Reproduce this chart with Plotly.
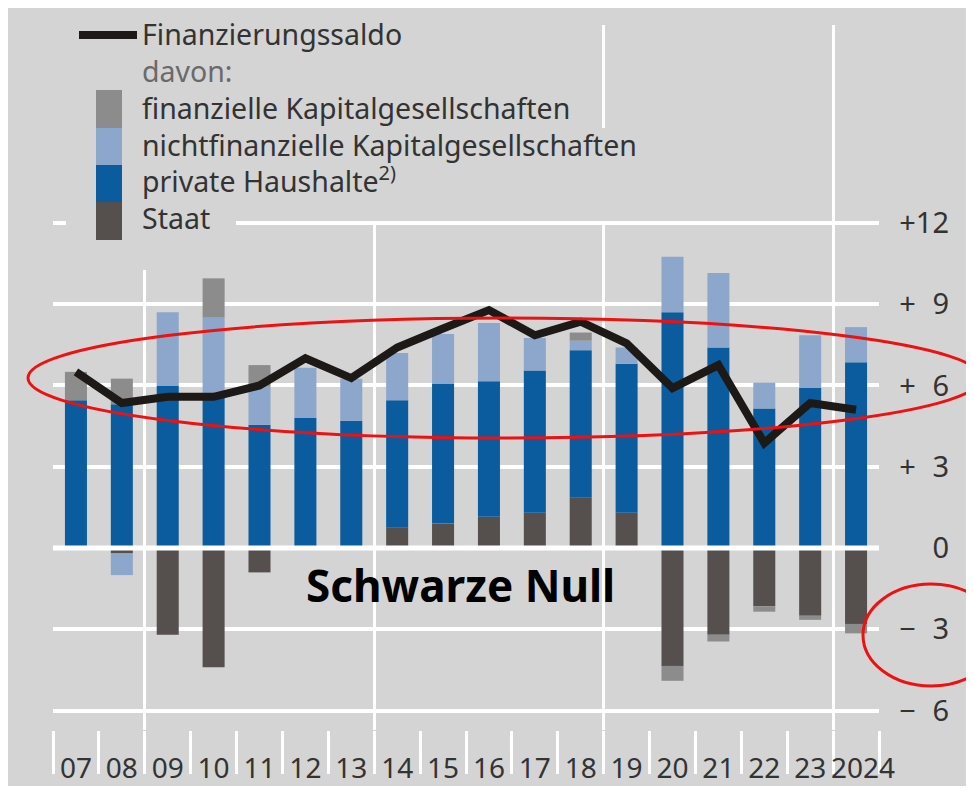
import plotly.graph_objects as go

# ---- data ----
years = ["07", "08", "09", "10", "11", "12", "13", "14", "15", "16", "17", "18",
         "19", "20", "21", "22", "23", "2024"]
x_ticktext = ["07", "08", "09", "10", "11", "12", "13", "14", "15", "16", "17",
              "18", "19", "20", "21", "22", "23", "\u20022024"]
staat = [0, -0.2, -3.2, -4.4, -0.9, 0, 0, 0.75, 0.9, 1.15, 1.3, 1.85, 1.3,
         -4.35, -3.2, -2.15, -2.5, -2.8]
haushalte = [5.45, 5.3, 6.0, 5.55, 4.55, 4.8, 4.7, 4.7, 5.15, 5.0, 5.25, 5.45,
             5.5, 8.7, 7.4, 5.15, 5.9, 6.85]
nichtfin = [0, -0.8, 2.7, 2.95, 1.4, 1.85, 1.55, 1.75, 1.85, 2.15, 1.2, 0.35,
            0.6, 2.05, 2.75, 0.95, 1.95, 1.3]
finanz = [1.05, 0.95, 0, 1.45, 0.8, 0, 0, 0, 0, 0, 0, 0.3, 0, -0.55, -0.25,
          -0.2, -0.15, -0.35]
saldo = [6.5, 5.35, 5.58, 5.58, 6.0, 7.0, 6.27, 7.4, 8.1, 8.78, 7.85, 8.35,
         7.55, 5.9, 6.75, 3.87, 5.35, 5.1]
y_tickvals = [-6, -3, 0, 3, 6, 9, 12]
y_ticktext = ["\u2212\u20076", "\u2212\u20073", "0", "+\u20073", "+\u20076", "+\u20079", "+12"]

# ---- styling / layout geometry (page pixels) ----
OFF = 8                     # default body margin of the html page
FW, FH = 974 - 2 * OFF, 794 - 2 * OFF
TOP, BOTTOM = 25, 730       # plot area top / bottom in page px
BG = "#d4d4d4"
C_FIN = "#8c8c8c"
C_NFK = "#8ca6cc"
C_HH = "#0a5c9e"
C_ST = "#55504d"
C_LINE = "#1c1917"
FONT = "Noto Sans"
TXT = "#333333"


def px_x(p):
    return (p - OFF) / FW


def px_y(p):
    return (BOTTOM - p) / (BOTTOM - TOP)


def big(s, color=None):
    st = "font-size:28.5px" + (";color:" + color if color else "")
    return "<span style='" + st + "'>" + s + "</span>"


fig = go.Figure()
fig.add_bar(x=years, y=staat, name=big("Staat"),
            marker=dict(color=C_ST, line=dict(width=0)), legendrank=6)
fig.add_bar(x=years, y=haushalte, name=big("private Haushalte<sup>2)</sup>"),
            marker=dict(color=C_HH, line=dict(width=0)), legendrank=5)
fig.add_bar(x=years, y=nichtfin, name=big("nichtfinanzielle Kapitalgesellschaften"),
            marker=dict(color=C_NFK, line=dict(width=0)), legendrank=4)
fig.add_bar(x=years, y=finanz, name=big("finanzielle Kapitalgesellschaften"),
            marker=dict(color=C_FIN, line=dict(width=0)), legendrank=3)
fig.add_scatter(x=years, y=saldo, mode="lines", name=big("Finanzierungssaldo"),
                line=dict(color=C_LINE, width=8), legendrank=1)
fig.add_scatter(x=[None], y=[None], mode="lines", xaxis="x2",
                name=big("davon:", "#6a6a6a"),
                line=dict(color="rgba(0,0,0,0)", width=0), legendrank=2,
                hoverinfo="skip")

dom = [px_x(53), px_x(879)]
fig.update_layout(
    width=FW, height=FH,
    margin=dict(l=0, r=0, t=TOP - OFF, b=FH - (BOTTOM - OFF), autoexpand=False),
    paper_bgcolor="white", plot_bgcolor="rgba(0,0,0,0)",
    barmode="relative", bargap=0.52,
    showlegend=True,
    legend=dict(x=px_x(74), y=px_y(11.6), xanchor="left", yanchor="top",
                bgcolor="rgba(0,0,0,0)", traceorder="normal", itemwidth=58,
                font=dict(family=FONT, size=26, color=TXT)),
    xaxis=dict(type="category", domain=dom, tickson="boundaries", ticks="outside",
               ticklen=43, tickwidth=3, tickcolor="white", showgrid=False,
               zeroline=False, showline=False, ticklabelstandoff=19, tickangle=0,
               tickmode="array", tickvals=years, ticktext=x_ticktext,
               tickfont=dict(family=FONT, size=28, color=TXT)),
    xaxis2=dict(overlaying="x", domain=dom, range=[-0.5, 17.5],
                tickvals=[1.5, 6.5, 11.5, 16.5], showgrid=True, gridcolor="white",
                gridwidth=3, showticklabels=False, ticks="", zeroline=False,
                showline=False),
    yaxis=dict(range=[-(BOTTOM - 548) / 27.1, (548 - TOP) / 27.1],
               tickvals=y_tickvals, ticktext=y_ticktext, anchor="free",
               position=px_x(949), side="left", showgrid=True, gridcolor="white",
               gridwidth=4, zeroline=False, ticks="", showline=False,
               tickfont=dict(family=FONT, size=29, color=TXT)),
)

shapes = []
# grey panel
shapes.append(dict(type="rect", xref="paper", yref="paper", layer="below",
                   x0=px_x(7), x1=px_x(968), y0=px_y(788), y1=px_y(3),
                   fillcolor=BG, line=dict(color="#c4c4c4", width=1)))
# knock-outs behind legend text
for (x0, x1, y0, y1) in [(60, 592, 10, 221), (592, 658, 128, 221),
                         (66, 236, 205, 244), (130, 165, 244, 270)]:
    shapes.append(dict(type="rect", xref="paper", yref="paper", layer="above",
                       x0=px_x(x0), x1=px_x(x1), y0=px_y(y1), y1=px_y(y0),
                       fillcolor=BG, line=dict(width=0)))
# legend colour column
for (c, y0, y1) in [(C_FIN, 90, 128), (C_NFK, 128, 165), (C_HH, 165, 202), (C_ST, 202, 240)]:
    shapes.append(dict(type="rect", xref="paper", yref="paper", layer="above",
                       x0=px_x(96), x1=px_x(122), y0=px_y(y1), y1=px_y(y0),
                       fillcolor=c, line=dict(width=0)))
# zero line above bars
shapes.append(dict(type="line", xref="x domain", yref="y", layer="above",
                   x0=0, x1=1, y0=0, y1=0, line=dict(color="white", width=5)))
# red highlight ellipses
shapes.append(dict(type="circle", xref="paper", yref="paper", layer="above",
                   x0=px_x(28), x1=px_x(982), y0=px_y(438), y1=px_y(318),
                   line=dict(color="#ee1111", width=3)))
shapes.append(dict(type="circle", xref="paper", yref="paper", layer="above",
                   x0=px_x(863), x1=px_x(999), y0=px_y(686), y1=px_y(584),
                   line=dict(color="#ee1111", width=3)))
fig.update_layout(shapes=shapes)

fig.add_annotation(text="<b>Schwarze Null</b>", xref="paper", yref="paper",
                   x=px_x(460), y=px_y(585), xanchor="center", yanchor="middle",
                   showarrow=False, font=dict(family=FONT, size=44, color="black"))

fig.write_html("out.html")
